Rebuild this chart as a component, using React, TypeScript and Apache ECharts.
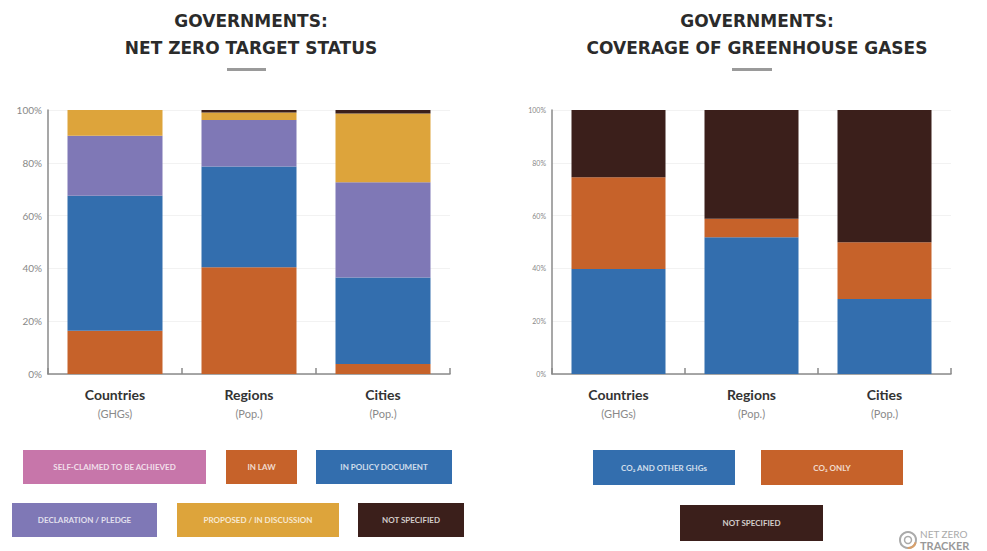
import React, { useEffect, useRef } from "react";
import * as echarts from "echarts";

const categories = ["Countries", "Regions", "Cities"];
const categorySubs = ["(GHGs)", "(Pop.)", "(Pop.)"];
const yTicks = [0, 20, 40, 60, 80, 100];

// Left chart: net zero target status (% share)
const statusNames = [
  "SELF-CLAIMED TO BE ACHIEVED",
  "IN LAW",
  "IN POLICY DOCUMENT",
  "DECLARATION / PLEDGE",
  "PROPOSED / IN DISCUSSION",
  "NOT SPECIFIED",
];
const selfClaimed = [0, 0, 0];
const inLaw = [16.4, 40.4, 3.8];
const inPolicy = [51.1, 38.2, 32.8];
const declaration = [22.7, 17.6, 36.0];
const proposed = [9.8, 2.9, 26.1];
const notSpecifiedStatus = [0, 0.9, 1.3];

// Right chart: coverage of greenhouse gases (% share)
const gasNames = ["CO₂ AND OTHER GHGs", "CO₂ ONLY", "NOT SPECIFIED"];
const co2AndOther = [39.8, 51.8, 28.4];
const co2Only = [34.7, 7.0, 21.5];
const notSpecifiedGas = [25.5, 41.2, 50.1];

const C = {
  pink: "#C776AA",
  orange: "#C6622A",
  blue: "#336EAE",
  purple: "#7F78B6",
  yellow: "#DDA43B",
  dark: "#3B1F1B",
};

const statusColors = [C.pink, C.orange, C.blue, C.purple, C.yellow, C.dark];
const statusData = [selfClaimed, inLaw, inPolicy, declaration, proposed, notSpecifiedStatus];
const gasColors = [C.blue, C.orange, C.dark];
const gasData = [co2AndOther, co2Only, notSpecifiedGas];

export default function App() {
  const ref = useRef<HTMLDivElement>(null);
  useEffect(() => {
    if (!ref.current) return;
    const chart = echarts.init(ref.current, undefined, { renderer: "svg" });
    const font = "Lato, 'Open Sans', sans-serif";
    const titleFont = "'DejaVu Sans', sans-serif";

    const xAxisBase = (gridIndex: number) => ({
      type: "category",
      gridIndex,
      data: categories,
      axisLine: { lineStyle: { color: "#8a8a8a", width: 1.5 } },
      axisTick: { show: true, inside: true, length: 6, lineStyle: { color: "#8a8a8a", width: 1.5 } },
      axisLabel: {
        margin: 10,
        formatter: (v: string) => {
          const i = categories.indexOf(v);
          return `{a|${v}}\n{b|${categorySubs[i]}}`;
        },
        rich: {
          a: { fontFamily: font, fontWeight: "bold", fontSize: 14, color: "#333", lineHeight: 20 },
          b: { fontFamily: font, fontSize: 11, color: "#8a8a8a", lineHeight: 18 },
        },
      },
    });
    const yAxisBase = (gridIndex: number, fs: number) => ({
      type: "value",
      gridIndex,
      min: 0,
      max: 100,
      interval: 20,
      axisLine: { show: true, lineStyle: { color: "#8a8a8a", width: 1.5 } },
      axisTick: { show: false },
      axisLabel: {
        margin: 6,
        fontFamily: font,
        fontSize: fs,
        color: "#888",
        formatter: (v: number) => (yTicks.includes(v) ? `${v}%` : ""),
      },
      splitLine: { lineStyle: { color: "#f2f2f2", width: 1 } },
    });

    const series: any[] = [];
    statusNames.forEach((name, i) => {
      series.push({
        type: "bar",
        name,
        stack: "status",
        xAxisIndex: 0,
        yAxisIndex: 0,
        barWidth: 95,
        data: statusData[i],
        itemStyle: { color: statusColors[i] },
      });
    });
    gasNames.forEach((name, i) => {
      series.push({
        type: "bar",
        name: "gas-" + name,
        stack: "gas",
        xAxisIndex: 1,
        yAxisIndex: 1,
        barWidth: 94,
        data: gasData[i],
        itemStyle: { color: gasColors[i] },
      });
    });

    const box = (x: number, y: number, w: number, h: number, color: string, text: string) => ({
      type: "rect",
      shape: { x, y, width: w, height: h },
      style: { fill: color },
      textContent: {
        style: {
          text,
          fill: "rgba(255,255,255,0.78)",
          fontFamily: font,
          fontWeight: "bold",
          fontSize: 8,
        },
      },
      textConfig: { position: "inside" },
    });

    const leftBoxes = [
      [23, 450, 183, 34],
      [226, 450, 71, 34],
      [316, 450, 136, 34],
      [12, 503, 145, 34],
      [177, 503, 162, 34],
      [358, 503, 106, 34],
    ];
    const rightBoxes = [
      [593, 450, 142, 35],
      [761, 450, 142, 35],
      [680, 505, 143, 36],
    ];

    const graphic: any[] = [
      { type: "rect", shape: { x: 227, y: 68, width: 39, height: 3 }, style: { fill: "#9a9a9a" } },
      { type: "rect", shape: { x: 732, y: 68, width: 40, height: 3 }, style: { fill: "#9a9a9a" } },
      ...statusNames.map((n, i) => box(leftBoxes[i][0], leftBoxes[i][1], leftBoxes[i][2], leftBoxes[i][3], statusColors[i], n)),
      ...gasNames.map((n, i) => box(rightBoxes[i][0], rightBoxes[i][1], rightBoxes[i][2], rightBoxes[i][3], gasColors[i], n)),
      // logo
      { type: "circle", shape: { cx: 908, cy: 540, r: 8 }, style: { fill: "none", stroke: "#aaa", lineWidth: 2 } },
      { type: "arc", shape: { cx: 908, cy: 540, r: 8, startAngle: 0.3, endAngle: 1.6 }, style: { fill: "none", stroke: "#D9A06A", lineWidth: 2 } },
      { type: "circle", shape: { cx: 908, cy: 540, r: 3.5 }, style: { fill: "none", stroke: "#aaa", lineWidth: 1.5 } },
      { type: "text", style: { x: 920, y: 529, text: "NET ZERO", fill: "#aaa", fontFamily: font, fontSize: 10 } },
      { type: "text", style: { x: 920, y: 540, text: "TRACKER", fill: "#999", fontFamily: font, fontWeight: "bold", fontSize: 11 } },
    ];

    const titleStyle = { fontFamily: titleFont, fontWeight: "bold", fontSize: 17, color: "#2b2b2b", lineHeight: 27 };

    chart.setOption({
      animation: false,
      backgroundColor: "#fff",
      title: [
        {
          text: "GOVERNMENTS:\nNET ZERO TARGET STATUS",
          left: 246,
          top: 2,
          textAlign: "center",
          textStyle: titleStyle,
        },
        {
          text: "GOVERNMENTS:\nCOVERAGE OF GREENHOUSE GASES",
          left: 752,
          top: 2,
          textAlign: "center",
          textStyle: titleStyle,
        },
      ],
      grid: [
        { left: 48, top: 110, width: 402, height: 264 },
        { left: 552, top: 110, width: 399, height: 264 },
      ],
      xAxis: [xAxisBase(0), xAxisBase(1)],
      yAxis: [yAxisBase(0, 10), yAxisBase(1, 7)],
      series,
      graphic,
    });
    return () => chart.dispose();
  }, []);
  return (
    <div
      ref={ref}
      style={{ position: "fixed", left: 0, top: 0, width: 987, height: 551 }}
    />
  );
}
